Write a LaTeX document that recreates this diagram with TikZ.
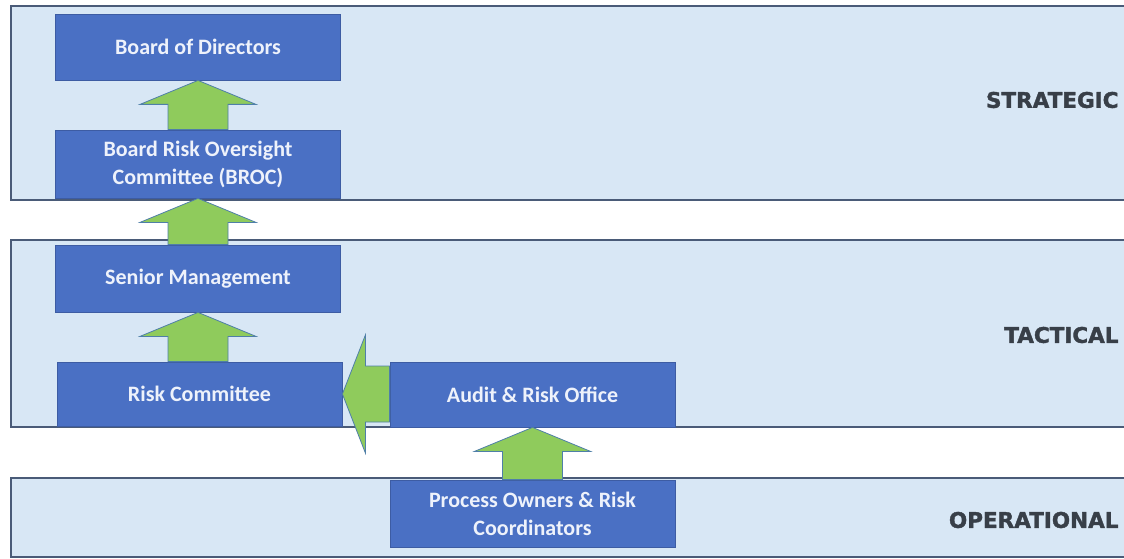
\documentclass[tikz,border=0pt]{standalone}
\usepackage{fontspec}
\setmainfont{Carlito}
\newfontfamily\levelfont[FakeBold=1.6]{DejaVu Sans Bold}
\usetikzlibrary{calc}
\definecolor{bandfill}{HTML}{D8E7F5}
\definecolor{bandline}{HTML}{4A5B78}
\definecolor{boxblue}{HTML}{4A70C4}
\definecolor{boxline}{HTML}{3D5CA3}
\definecolor{arrowgreen}{HTML}{8FCB5C}
\definecolor{arrowline}{HTML}{4F7FA8}
\definecolor{leveltext}{HTML}{383F48}
\definecolor{unittext}{HTML}{EEF2FB}

% block arrow pointing up, from the lower box #1 to the upper box #2
\newcommand\blockup[2]{%
\draw[flow] ($(#1.north -| #2.south)+(-30,0)$) -- ($(#2.south)+(-30,24)$)
  -- ($(#2.south)+(-58,24)$) -- (#2.south) -- ($(#2.south)+(58,24)$)
  -- ($(#2.south)+(30,24)$) -- ($(#1.north -| #2.south)+(30,0)$) -- cycle;}

\begin{document}
\begin{tikzpicture}[x=1pt,y=-1pt,line join=miter,
  band/.style={fill=bandfill,draw=bandline,line width=2.8pt},
  unit/.style={draw=boxline,line width=0.8pt,fill=boxblue,text=unittext,
    font=\bfseries\fontsize{22}{28}\selectfont,align=center,
    minimum width=285,minimum height=66,inner sep=0pt},
  level/.style={text=leveltext,font=\levelfont\fontsize{21.5}{26}\selectfont,anchor=east},
  flow/.style={fill=arrowgreen,draw=arrowline,line width=0.8pt}]
\useasboundingbox (0,0) rectangle (1124,559);
\fill[white] (0,0) rectangle (1124,559);

% the three levels
\foreach \ya/\yb/\lvl/\ly in {6/200/STRATEGIC/100,240/427/TACTICAL/335,478/557/OPERATIONAL/520}{
  \draw[band] (11,\ya) rectangle (1140,\yb);
  \node[level] (\lvl) at (1122,\ly) {\lvl};
}

% reporting units
\node[unit] (board) at (198,47) {Board of Directors};
\node[unit,minimum height=68] (broc) at (198,164) {Board Risk Oversight\\Committee (BROC)};
\node[unit,minimum height=67] (senior) at (198,278.5) {Senior Management};
\node[unit,minimum height=64] (riskcom) at (199.5,394) {Risk Committee};
\node[unit,minimum height=65] (audit) at (532.5,394.5) {Audit \& Risk Office};
\node[unit,minimum height=67] (owners) at (532.5,513.5) {Process Owners \& Risk\\Coordinators};

% reporting lines
\blockup{broc}{board}
\blockup{senior}{broc}
\blockup{riskcom}{senior}
\blockup{owners}{audit}
\draw[flow] ($(audit.west |- riskcom.east)+(0,-28)$) -- ($(riskcom.east)+(23,-28)$)
  -- ($(riskcom.east)+(23,-59)$) -- (riskcom.east) -- ($(riskcom.east)+(23,59)$)
  -- ($(riskcom.east)+(23,28)$) -- ($(audit.west |- riskcom.east)+(0,28)$) -- cycle;
\end{tikzpicture}
\end{document}
